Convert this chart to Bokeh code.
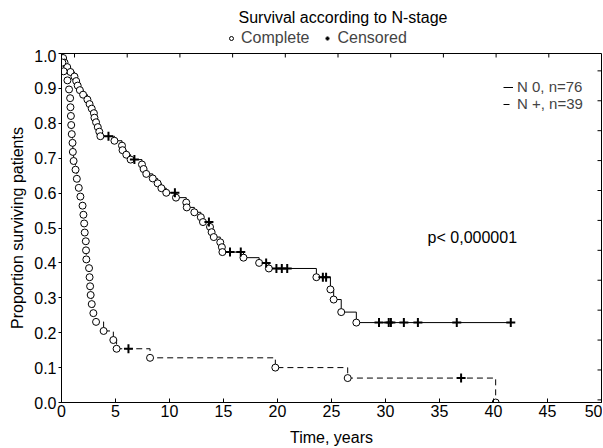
from bokeh.plotting import figure
from bokeh.layouts import column
from bokeh.models import (Range1d, FixedTicker, Legend, LegendItem, Label, NumeralTickFormatter)
from bokeh.embed import file_html
from bokeh.resources import INLINE

FONT = "Liberation Sans"
FS = "16px"

# ---------------- data ----------------
title_text = "Survival according to N-stage"
x_ticks = [0, 5, 10, 15, 20, 25, 30, 35, 40, 45, 50]
y_ticks = [0.0, 0.1, 0.2, 0.3, 0.4, 0.5, 0.6, 0.7, 0.8, 0.9, 1.0]
top_ticks = [0, 1, 2, 3, 4, 5, 6, 7, 8, 9]          # decorative ticks of the top edge
right_ticks = [0, 1, 2, 3, 4, 5, 6, 7, 8, 9, 10, 11]  # decorative ticks of the right edge

# N 0 group (n=76): event times (years) and survival after each event
n0_event_time = [0.15, 0.28, 0.53, 0.83, 1.2, 1.36, 1.5, 1.7, 2.0, 2.4, 2.6, 2.8, 3.0, 3.05, 3.2, 3.36, 3.5, 3.6,
                 4.9, 5.6, 5.65, 6.0, 6.4,
                 7.45, 7.6, 7.85, 8.45, 8.9, 9.25, 9.7,
                 10.6, 11.55, 11.6, 12.3, 12.9, 13.1,
                 13.75, 13.9, 14.1, 14.7, 14.85, 14.9,
                 16.85, 18.3, 19.2, 23.6, 24.9, 25.2, 25.9, 27.3]
n0_event_surv = [0.987, 0.974, 0.961, 0.947, 0.934, 0.921, 0.908, 0.895, 0.882, 0.868, 0.855, 0.842, 0.829, 0.816, 0.803, 0.789, 0.776, 0.763,
                 0.750, 0.736, 0.723, 0.710, 0.696,
                 0.682, 0.669, 0.655, 0.642, 0.628, 0.614, 0.601,
                 0.587, 0.573, 0.559, 0.545, 0.531, 0.517,
                 0.503, 0.488, 0.474, 0.459, 0.445, 0.431,
                 0.415, 0.400, 0.384, 0.359, 0.324, 0.295, 0.259, 0.229]
n0_cens_time = [4.35, 6.75, 10.5, 13.65, 15.6, 16.6, 18.95, 19.9, 20.4, 20.9, 24.2, 24.5,
                29.4, 30.3, 30.5, 31.7, 33.0, 36.6, 41.6]
n0_cens_surv = [0.763, 0.696, 0.601, 0.517, 0.431, 0.431, 0.400, 0.384, 0.384, 0.384, 0.359, 0.359,
                0.229, 0.229, 0.229, 0.229, 0.229, 0.229, 0.229]

# N + group (n=39)
np_event_time = [0.08, 0.2, 0.55, 0.7, 0.8, 0.83, 0.87, 0.9, 0.95, 1.02, 1.05, 1.12, 1.3, 1.42, 1.6, 1.75,
                 1.95, 2.03, 2.1, 2.15, 2.25, 2.27, 2.3, 2.55, 2.6, 2.65, 2.7, 2.8, 2.95, 3.2, 3.9, 4.8, 5.1,
                 8.2, 19.8, 26.5, 40.2]
np_event_surv = [0.974, 0.949, 0.923, 0.897, 0.872, 0.846, 0.821, 0.795, 0.769, 0.744, 0.718, 0.692, 0.667,
                 0.641, 0.615, 0.590, 0.564, 0.538, 0.513, 0.487, 0.462, 0.436, 0.410, 0.385, 0.359, 0.333,
                 0.308, 0.282, 0.256, 0.231, 0.205, 0.179, 0.154, 0.128, 0.100, 0.070, 0.0]
np_cens_time = [6.2, 37.0]
np_cens_surv = [0.154, 0.070]

series_labels = ["N 0, n=76", "N +, n=39"]
marker_labels = ["Complete", "Censored"]
p_value_text = "p< 0,000001"
p_value_pos = (33.9, 0.472)

NAN = float("nan")

# ---------------- header (title + marker legend) ----------------
head = figure(width=602, height=49, x_range=Range1d(0, 540), y_range=Range1d(0, 49),
              output_backend="svg", toolbar_location=None, title=None,
              x_axis_type=None, y_axis_type=None,
              min_border_left=61, min_border_right=1, min_border_top=0, min_border_bottom=0)
head.outline_line_color = None
head.grid.visible = False
head.add_layout(Label(x=177, y=32, text=title_text, text_font=FONT, text_font_size=FS,
                      text_baseline="middle", text_align="left", text_color="black"))
# legend-only renderers (no visible points)
h_circ = head.scatter([NAN], [NAN], marker="circle", size=7, fill_color="white",
                      line_color="black", line_width=1)
h_cross = head.scatter([NAN], [NAN], marker="cross", size=9, line_color="black", line_width=2)
leg_top = Legend(items=[LegendItem(label=marker_labels[0], renderers=[h_circ]),
                        LegendItem(label=marker_labels[1], renderers=[h_cross])],
                 orientation="horizontal", location=(163, 0),
                 label_text_font=FONT, label_text_font_size=FS,
                 glyph_width=10, glyph_height=16, label_height=16, label_standoff=5,
                 spacing=13, padding=2, margin=0,
                 border_line_alpha=0, background_fill_alpha=0)
head.add_layout(leg_top)

# ---------------- main figure ----------------
p = figure(width=602, height=399, x_range=Range1d(0, 50), y_range=Range1d(0, 1.0),
           output_backend="svg", toolbar_location=None, title=None,
           min_border_left=61, min_border_right=1, min_border_top=4, min_border_bottom=45)
p.grid.visible = False
p.outline_line_color = "black"
p.background_fill_color = "white"
p.border_fill_color = "white"

def step_xy(times, surv, end_time):
    xs = [0.0] + list(times) + [end_time]
    ys = [1.0] + list(surv) + [surv[-1]]
    return xs, ys

x0, y0 = step_xy(n0_event_time, n0_event_surv, max(n0_cens_time))
x1, y1 = step_xy(np_event_time, np_event_surv, np_event_time[-1])

r_n0 = p.step(x0, y0, mode="after", line_color="black", line_width=1)
r_np = p.step(x1, y1, mode="after", line_color="black", line_width=1, line_dash="6 4")

r_c0 = p.scatter(n0_event_time, n0_event_surv, marker="circle", size=7, fill_color="white",
                 line_color="black", line_width=1)
r_c1 = p.scatter(np_event_time, np_event_surv, marker="circle", size=7, fill_color="white",
                 line_color="black", line_width=1)
r_x0 = p.scatter(n0_cens_time, n0_cens_surv, marker="cross", size=9, line_color="black", line_width=2)
r_x1 = p.scatter(np_cens_time, np_cens_surv, marker="cross", size=9, line_color="black", line_width=2)

for ax in (p.xaxis[0], p.yaxis[0]):
    ax.axis_line_color = "black"
    ax.major_tick_line_color = "black"
    ax.minor_tick_line_color = None
    ax.major_label_text_font = FONT
    ax.major_label_text_font_size = FS
    ax.major_label_text_color = "black"
    ax.axis_label_text_font = FONT
    ax.axis_label_text_font_size = FS
    ax.axis_label_text_font_style = "normal"
    ax.axis_label_text_color = "black"

p.xaxis.ticker = FixedTicker(ticks=x_ticks)
p.xaxis.major_tick_in = 4
p.xaxis.major_tick_out = 0
p.xaxis.major_label_standoff = 2
p.xaxis.axis_label = "Time, years"
p.xaxis.axis_label_standoff = 9

p.yaxis.ticker = FixedTicker(ticks=y_ticks)
p.yaxis.formatter = NumeralTickFormatter(format="0.0")
p.yaxis.major_tick_in = 0
p.yaxis.major_tick_out = 3
p.yaxis.major_label_standoff = 2
p.yaxis.axis_label = "Proportion surviving patients"
p.yaxis.axis_label_standoff = 5

# decorative tick marks on the top and right edges (own scales)
p.extra_x_ranges = {"top": Range1d(-0.247, 10.0)}
p.extra_y_ranges = {"right": Range1d(-0.087, 11.58)}
tick_len_y = 4 / 350.0
tick_len_x = 4 * 50.0 / 540.0
p.segment(x0=top_ticks, y0=[1.0] * len(top_ticks), x1=top_ticks,
          y1=[1.0 - tick_len_y] * len(top_ticks), x_range_name="top",
          line_color="black", line_width=1)
p.segment(x0=[50.0] * len(right_ticks), y0=right_ticks,
          x1=[50.0 - tick_len_x] * len(right_ticks), y1=right_ticks,
          y_range_name="right", line_color="black", line_width=1)

leg_in = Legend(items=[LegendItem(label=series_labels[0], renderers=[r_n0]),
                       LegendItem(label=series_labels[1], renderers=[r_np])],
                orientation="vertical", location=(440, 288),
                label_text_font=FONT, label_text_font_size="15px",
                glyph_width=10, glyph_height=12, label_height=12, label_standoff=4,
                spacing=-10, padding=2, margin=0,
                border_line_alpha=0, background_fill_alpha=0)
p.add_layout(leg_in)

p.add_layout(Label(x=p_value_pos[0], y=p_value_pos[1], text=p_value_text,
                   text_font=FONT, text_font_size=FS, text_baseline="middle",
                   text_align="left", text_color="black"))

layout = column(head, p, spacing=0)
open("out.html", "w").write(file_html(layout, INLINE))
